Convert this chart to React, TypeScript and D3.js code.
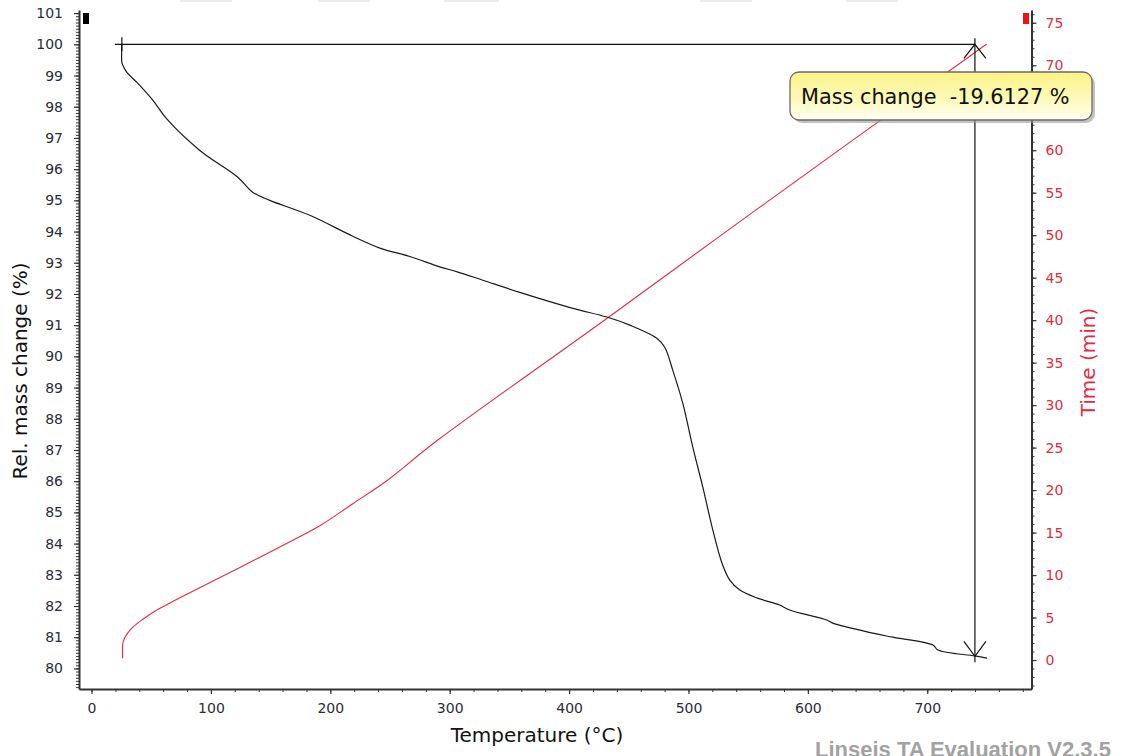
import { useEffect, useRef } from 'react'
import * as d3 from 'd3'

// TG curve: temperature (°C) -> relative mass (%)
const massTemp = [25.4, 25.4, 26.2, 29.6, 38, 51.3, 63.2, 90.7, 122.5, 135, 149.3, 182.8, 218.8, 241.5, 266.6, 291.7, 306.3, 327.8, 361.3, 403.2, 431.6, 450.9, 473.5, 480.1, 486.8, 495.2, 503.6, 512, 520.4, 528, 534.6, 543, 557.2, 576.5, 584.8, 615.8, 620.9, 654.4, 671.2, 704.7, 708.9, 739.9, 750]
const massPct = [100.0, 99.42, 99.33, 99.1, 98.78, 98.21, 97.6, 96.6, 95.74, 95.26, 95.0, 94.52, 93.85, 93.47, 93.2, 92.87, 92.71, 92.44, 92.02, 91.54, 91.26, 91.0, 90.58, 90.29, 89.56, 88.5, 87.09, 85.81, 84.43, 83.38, 82.83, 82.51, 82.26, 82.03, 81.87, 81.55, 81.45, 81.13, 81.0, 80.75, 80.59, 80.4, 80.33]

// time curve: temperature (°C) -> time (min)
const timeTemp = [26.0, 26.0, 26.6, 29.6, 34.6, 43.0, 53.0, 65.6, 79.8, 107.5, 141.0, 168.6, 191.2, 218.8, 247.3, 289.2, 431.6, 543.0, 749.8]
const timeMin = [0.2, 1.56, 2.2, 3.05, 3.87, 4.8, 5.75, 6.7, 7.74, 9.7, 12.1, 14.1, 15.8, 18.4, 21.1, 25.8, 40.2, 51.6, 72.5]

const xTicks = d3.range(0, 701, 100)
const xMinor = d3.range(0, 781, 20)
const massTicks = d3.range(80, 101.01, 1)
const massMinor = d3.range(794, 1011, 1).map(d => d / 10)
const timeTicks = d3.range(0, 76, 5)
const timeMinor = d3.range(-3, 77, 1)

// step evaluation markers
const stepFrom = { temp: 25.4, mass: 100 }
const stepTo = { temp: 739.9, mass: 80.3873 }
const stepLabel = 'Mass change  -19.6127 %'

const RED = '#e42a3e'
const INK = '#2c2c36'
const FONT = '"DejaVu Sans", Verdana, sans-serif'

export default function App() {
  const ref = useRef<SVGSVGElement>(null)

  useEffect(() => {
    const svg = d3.select(ref.current)
    svg.selectAll('*').remove()

    const x = d3.scaleLinear().domain([-10.5, 787.3]).range([79, 1031.5])
    const yM = d3.scaleLinear().domain([79.34, 101.1]).range([689, 10])
    const yT = d3.scaleLinear().domain([-3.41, 76.5]).range([689, 10])

    // faint bits along the top edge
    const topBits = [[180, 232], [318, 370], [444, 499], [700, 752], [846, 898]]
    svg.selectAll('rect.bit').data(topBits).enter().append('rect')
      .attr('x', d => d[0]).attr('y', 0).attr('width', d => d[1] - d[0]).attr('height', 2)
      .attr('fill', '#ececf0')

    const styleAxis = (g: any, color: string) => {
      g.select('.domain').attr('stroke', '#333').attr('stroke-width', 2)
      g.selectAll('.tick line').attr('stroke', '#333').attr('stroke-width', 1.2)
      g.selectAll('text').attr('font-family', FONT).attr('font-size', 14).attr('fill', color)
    }

    // minor ticks
    svg.append('g').attr('transform', 'translate(79,0)')
      .call(d3.axisLeft(yM).tickValues(massMinor).tickSize(3).tickSizeOuter(0).tickFormat(() => ''))
      .call(g => { g.select('.domain').remove(); g.selectAll('line').attr('stroke', '#333') })
    svg.append('g').attr('transform', 'translate(0,689)')
      .call(d3.axisBottom(x).tickValues(xMinor).tickSize(3).tickSizeOuter(0).tickFormat(() => ''))
      .call(g => { g.select('.domain').remove(); g.selectAll('line').attr('stroke', '#333') })
    svg.append('g').attr('transform', 'translate(1031.5,0)')
      .call(d3.axisRight(yT).tickValues(timeMinor).tickSize(3).tickSizeOuter(0).tickFormat(() => ''))
      .call(g => { g.select('.domain').remove(); g.selectAll('line').attr('stroke', '#333') })

    // main axes
    svg.append('g').attr('transform', 'translate(79,0)')
      .call(d3.axisLeft(yM).tickValues(massTicks).tickSize(5).tickSizeOuter(0).tickPadding(11).tickFormat(d3.format('d')))
      .call(g => styleAxis(g, INK))
    svg.append('g').attr('transform', 'translate(0,689)')
      .call(d3.axisBottom(x).tickValues(xTicks).tickSize(5).tickSizeOuter(0).tickPadding(9).tickFormat(d3.format('d')))
      .call(g => styleAxis(g, INK))
    // the 65 label sits under the result box, so it is left blank
    svg.append('g').attr('transform', 'translate(1031.5,0)')
      .call(d3.axisRight(yT).tickValues(timeTicks).tickSize(5).tickSizeOuter(0).tickPadding(9)
        .tickFormat(d => (d === 65 ? '' : d3.format('d')(d as number))))
      .call(g => styleAxis(g, RED))

    // series markers at axis tops
    svg.append('rect').attr('x', 83).attr('y', 13).attr('width', 6).attr('height', 11).attr('fill', '#000')
    svg.append('rect').attr('x', 1023).attr('y', 13).attr('width', 6).attr('height', 11).attr('fill', '#ee1111')

    // axis titles
    svg.append('text').attr('transform', 'translate(27,371) rotate(-90)')
      .attr('text-anchor', 'middle').attr('font-family', FONT).attr('font-size', 20).attr('fill', '#111')
      .text('Rel. mass change (%)')
    svg.append('text').attr('transform', 'translate(1095,362) rotate(-90)')
      .attr('text-anchor', 'middle').attr('font-family', FONT).attr('font-size', 20).attr('fill', RED)
      .text('Time (min)')
    svg.append('text').attr('x', 537).attr('y', 742)
      .attr('text-anchor', 'middle').attr('font-family', FONT).attr('font-size', 20).attr('fill', '#111')
      .text('Temperature (°C)')

    // curves
    const timeLine = d3.line<number>().x((d, i) => x(timeTemp[i])).y(d => yT(d)).curve(d3.curveCatmullRom)
    svg.append('path').attr('d', timeLine(timeMin)).attr('fill', 'none')
      .attr('stroke', RED).attr('stroke-width', 1.1)

    const massLine = d3.line<number>().x((d, i) => x(massTemp[i])).y(d => yM(d)).curve(d3.curveCatmullRom)
    svg.append('path').attr('d', massLine(massPct)).attr('fill', 'none')
      .attr('stroke', '#1a1a1a').attr('stroke-width', 1.2)

    // step evaluation
    const ax = x(stepTo.temp), y0 = yM(stepFrom.mass), y1 = yM(stepTo.mass)
    const ann = svg.append('g').attr('stroke', '#111').attr('stroke-width', 1.2).attr('fill', 'none')
    ann.append('line').attr('x1', x(stepFrom.temp) - 7).attr('x2', ax).attr('y1', y0).attr('y2', y0)
    ann.append('line').attr('x1', x(stepFrom.temp)).attr('x2', x(stepFrom.temp)).attr('y1', y0 - 7).attr('y2', y0 + 7)
    ann.append('line').attr('x1', ax).attr('x2', ax).attr('y1', y0 - 6).attr('y2', y1 + 6)
    ann.append('path').attr('d', `M${ax - 11},${y0 + 14}L${ax},${y0}L${ax + 11},${y0 + 14}`)
    ann.append('path').attr('d', `M${ax - 11},${y1 - 15}L${ax},${y1}L${ax + 11},${y1 - 15}`)

    // label box
    const defs = svg.append('defs')
    const grad = defs.append('linearGradient').attr('id', 'tip').attr('x1', 0).attr('y1', 0).attr('x2', 0).attr('y2', 1)
    grad.append('stop').attr('offset', '0%').attr('stop-color', '#fbf386')
    grad.append('stop').attr('offset', '55%').attr('stop-color', '#fdf9b8')
    grad.append('stop').attr('offset', '100%').attr('stop-color', '#fffff2')
    const bx = 790, by = 72, bw = 302, bh = 48
    svg.append('rect').attr('x', bx + 3).attr('y', by + 3).attr('width', bw).attr('height', bh)
      .attr('rx', 9).attr('fill', '#9a9a9a').attr('opacity', 0.6)
    svg.append('rect').attr('x', bx).attr('y', by).attr('width', bw).attr('height', bh)
      .attr('rx', 9).attr('fill', 'url(#tip)').attr('stroke', '#6a6a6a').attr('stroke-width', 1.3)
    svg.append('text').attr('x', 801).attr('y', 104).attr('font-family', FONT).attr('font-size', 20.8)
      .attr('fill', '#111').attr('xml:space', 'preserve').style('white-space', 'pre').text(stepLabel)

    // watermark
    svg.append('text').attr('x', 815).attr('y', 757).attr('font-family', '"Liberation Sans", Arial, sans-serif')
      .attr('font-weight', 'bold').attr('font-size', 22).attr('fill', '#a2a2a2')
      .text('Linseis TA Evaluation V2.3.5')
  }, [])

  return (
    <svg ref={ref} width={1122} height={756}
      style={{ position: 'absolute', left: 0, top: 0, background: '#fff', overflow: 'hidden' }} />
  )
}
